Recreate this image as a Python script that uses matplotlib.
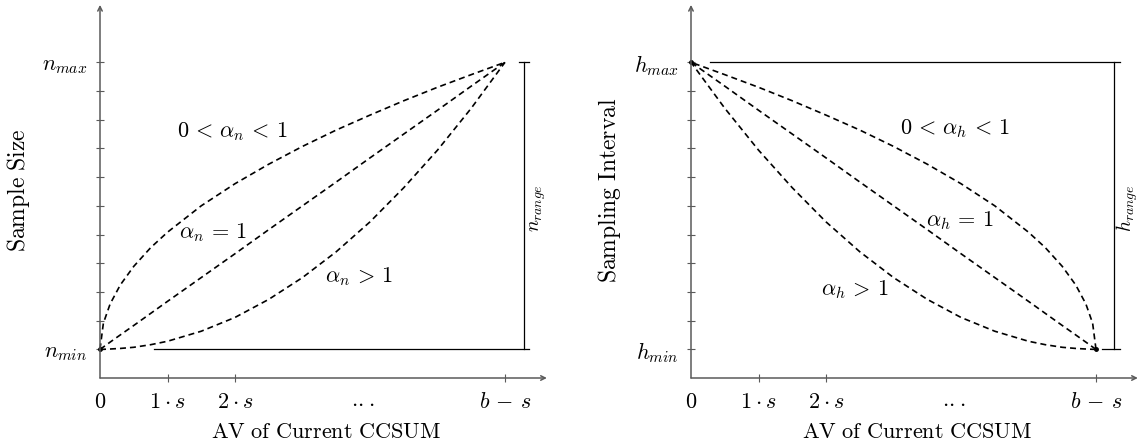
import matplotlib
matplotlib.use('Agg')
from matplotlib import pyplot as plt

plt.rcParams['mathtext.fontset'] = 'cm'
plt.rcParams['font.family'] = 'serif'

# value range and last tick on the x axis (in units of s)
n_min, n_max = 1, 11
b_minus_s = 6

x_ticks = [0, 1, 2, 3.9, 6]
x_ticklabels = [r'$0$', r'$1\cdot s$', r'$2\cdot s$', r'$\cdot\!\cdot\!\cdot$',
                r'$b\,-\,s$']
y_ticks = [1, 2, 3, 4, 5, 6, 7, 8, 9, 10, 11]

# curves (sample size vs AV)
x_pts = [0, 0.05, 0.15, 0.3, 0.5, 0.75, 1, 1.5, 2, 2.5, 3, 3.5, 4, 4.5, 5, 5.5, 6]
y_concave = [1, 1.91, 2.58, 3.24, 3.89, 4.54, 5.08, 6.0, 6.77, 7.45, 8.07,
             8.64, 9.16, 9.66, 10.13, 10.57, 11]
y_linear = [1, 1.08, 1.25, 1.5, 1.83, 2.25, 2.67, 3.5, 4.33, 5.17, 6.0,
            6.83, 7.67, 8.5, 9.33, 10.17, 11]
y_convex = [1, 1.0, 1.01, 1.03, 1.07, 1.16, 1.28, 1.63, 2.11, 2.74, 3.5,
            4.4, 5.44, 6.63, 7.94, 9.4, 11]

GRAY = '#5a5a5a'
FS = 16


def setup_axes(ax, ylabel, ymin_label, ymax_label):
    ax.set_xlim(0, 6.7)
    ax.set_ylim(0, 13.1)
    for sp in ax.spines.values():
        sp.set_visible(False)
    ax.annotate('', xy=(6.62, 0), xytext=(0, 0),
                arrowprops=dict(arrowstyle='->', color=GRAY, lw=1.1,
                                mutation_scale=8, shrinkA=0, shrinkB=0),
                annotation_clip=False)
    ax.annotate('', xy=(0, 13.0), xytext=(0, 0),
                arrowprops=dict(arrowstyle='->', color=GRAY, lw=1.1,
                                mutation_scale=8, shrinkA=0, shrinkB=0),
                annotation_clip=False)
    ax.set_xticks(x_ticks)
    ax.set_xticklabels(x_ticklabels, fontsize=FS)
    ylabels = [''] * len(y_ticks)
    ylabels[0] = ymin_label
    ylabels[-1] = ymax_label
    ax.set_yticks(y_ticks)
    ax.set_yticklabels(ylabels, fontsize=FS)
    ax.tick_params(axis='both', direction='inout', length=6, width=0.8,
                   color=GRAY)
    ax.tick_params(axis='x', pad=6)
    ax.tick_params(axis='y', pad=6)
    ticks = ax.xaxis.get_major_ticks()
    for i in (0, 3):
        ticks[i].tick1line.set_visible(False)
    ax.text(0.5, -0.1436, r'$\mathrm{AV\ of\ Current\ CCSUM}$', fontsize=FS,
            ha='center', va='center', transform=ax.transAxes)
    ax.text(-0.181, 0.5, ylabel, fontsize=17, rotation=90,
            ha='center', va='center', transform=ax.transAxes)


fig = plt.figure(figsize=(11.43, 4.44), dpi=100)
w = 6.7 * 67.5 / 1143
h = 13.1 * 28.7 / 444
ax1 = fig.add_axes([100 / 1143, 66 / 444, w, h])
ax2 = fig.add_axes([691 / 1143, 66 / 444, w, h])

dash = (0, (3.6, 2.4))

# left panel: sample size
setup_axes(ax1, r'$\mathrm{Sample\ Size}$', r'$n_{min}$', r'$n_{max}$')
for ys in (y_concave, y_linear, y_convex):
    ax1.plot(x_pts, ys, color='black', lw=1.2, linestyle=dash, clip_on=False)
ax1.plot([0], [n_min], marker='o', ms=2.5, color='black', clip_on=False)
ax1.plot([0.8, 6.36], [n_min, n_min], color='black', lw=0.9)
ax1.plot([6.28, 6.28], [n_min, n_max], color='black', lw=0.9)
ax1.plot([6.2, 6.36], [n_max, n_max], color='black', lw=0.9)
ax1.text(6.49, 5.92, r'$n_{range}$', rotation=90, ha='center', va='center',
         fontsize=14)
ax1.text(1.96, 8.6, r'$0\,<\,\alpha_n\,<\,1$', ha='center', va='center', fontsize=FS)
ax1.text(1.68, 5.05, r'$\alpha_n\,=\,1$', ha='center', va='center', fontsize=FS)
ax1.text(3.83, 3.52, r'$\alpha_n\,>\,1$', ha='center', va='center', fontsize=FS)

# right panel: sampling interval (mirror of the left curves)
setup_axes(ax2, r'$\mathrm{Sampling\ Interval}$', r'$h_{min}$', r'$h_{max}$')
x_rev = [b_minus_s - x for x in x_pts]
for ys in (y_concave, y_linear, y_convex):
    ax2.plot(x_rev, ys, color='black', lw=1.2, linestyle=dash, clip_on=False)
ax2.plot([0], [n_max], marker='o', ms=2.5, color='black', clip_on=False)
ax2.plot([b_minus_s], [n_min], marker='o', ms=2.5, color='black')
ax2.plot([0.28, 6.36], [n_max, n_max], color='black', lw=0.9)
ax2.plot([6.27, 6.27], [n_min, n_max], color='black', lw=0.9)
ax2.plot([6.09, 6.36], [n_min, n_min], color='black', lw=0.9)
ax2.text(6.47, 5.92, r'$h_{range}$', rotation=90, ha='center', va='center',
         fontsize=14)
ax2.text(3.91, 8.7, r'$0\,<\,\alpha_h\,<\,1$', ha='center', va='center', fontsize=FS)
ax2.text(3.98, 5.5, r'$\alpha_h\,=\,1$', ha='center', va='center', fontsize=FS)
ax2.text(2.42, 3.07, r'$\alpha_h\,>\,1$', ha='center', va='center', fontsize=FS)

fig.savefig('out.png', dpi=100)
